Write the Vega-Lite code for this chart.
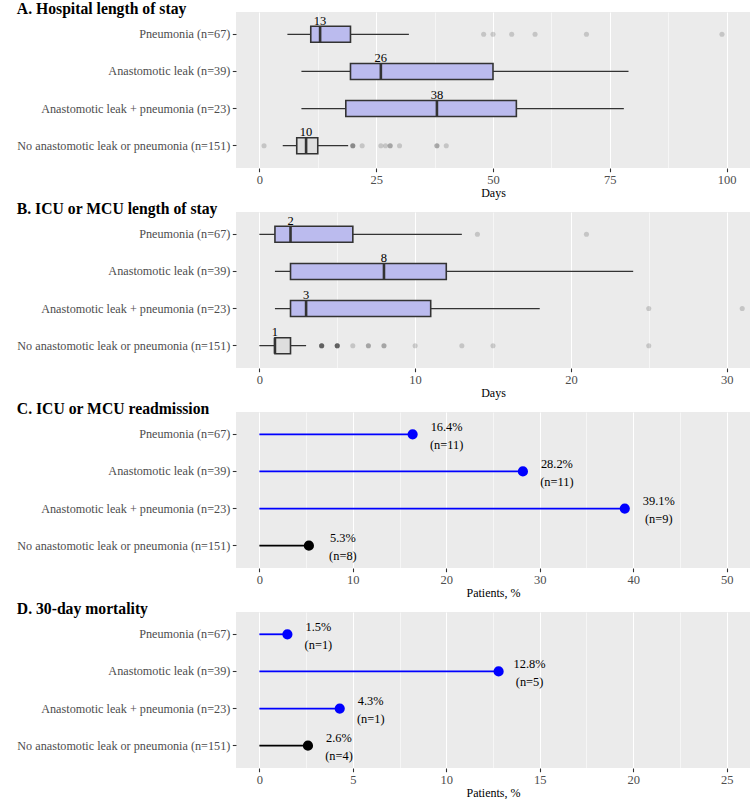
{
  "$schema": "https://vega.github.io/schema/vega-lite/v6.json",
  "padding": {"left": 16, "top": 1, "right": 0, "bottom": 0},
  "spacing": 2,
  "config": {
    "font": "Liberation Serif",
    "view": {"fill": "#EBEBEB", "stroke": null},
    "axis": {"domain": false, "tickColor": "#333333", "tickSize": 3.7, "tickWidth": 1.1, "labelColor": "#4D4D4D", "labelFont": "Liberation Serif", "titleFont": "Liberation Serif", "titleFontWeight": "normal", "titleColor": "#000000", "titleFontSize": 12, "labelLimit": 0},
    "axisY": {"grid": false, "labelPadding": 2.5, "labelFontSize": 12.2},
    "axisX": {"gridColor": "#FFFFFF", "labelPadding": 2, "titlePadding": 1, "labelFontSize": 12.5},
    "title": {"anchor": "start", "fontSize": 15.7, "fontWeight": "bold", "color": "#000000", "font": "Liberation Serif", "baseline": "alphabetic", "offset": -6}
  },
  "datasets": {
    "boxA": [
      {"group": "Pneumonia (n=67)", "lo": 6, "q1": 11, "med": 13, "q3": 19.5, "hi": 32},
      {"group": "Anastomotic leak (n=39)", "lo": 9, "q1": 19.5, "med": 26, "q3": 50, "hi": 79},
      {"group": "Anastomotic leak + pneumonia (n=23)", "lo": 9, "q1": 18.5, "med": 38, "q3": 55, "hi": 78},
      {"group": "No anastomotic leak or pneumonia (n=151)", "lo": 5, "q1": 8, "med": 10, "q3": 12.5, "hi": 19}
    ],
    "outA": [
      {"group": "Pneumonia (n=67)", "value": 48},
      {"group": "Pneumonia (n=67)", "value": 50},
      {"group": "Pneumonia (n=67)", "value": 54},
      {"group": "Pneumonia (n=67)", "value": 59},
      {"group": "Pneumonia (n=67)", "value": 70},
      {"group": "Pneumonia (n=67)", "value": 99},
      {"group": "No anastomotic leak or pneumonia (n=151)", "value": 1},
      {"group": "No anastomotic leak or pneumonia (n=151)", "value": 20},
      {"group": "No anastomotic leak or pneumonia (n=151)", "value": 20},
      {"group": "No anastomotic leak or pneumonia (n=151)", "value": 20},
      {"group": "No anastomotic leak or pneumonia (n=151)", "value": 22},
      {"group": "No anastomotic leak or pneumonia (n=151)", "value": 26},
      {"group": "No anastomotic leak or pneumonia (n=151)", "value": 27},
      {"group": "No anastomotic leak or pneumonia (n=151)", "value": 28},
      {"group": "No anastomotic leak or pneumonia (n=151)", "value": 28},
      {"group": "No anastomotic leak or pneumonia (n=151)", "value": 30},
      {"group": "No anastomotic leak or pneumonia (n=151)", "value": 38},
      {"group": "No anastomotic leak or pneumonia (n=151)", "value": 38},
      {"group": "No anastomotic leak or pneumonia (n=151)", "value": 40}
    ],
    "boxB": [
      {"group": "Pneumonia (n=67)", "lo": 0, "q1": 1, "med": 2, "q3": 6, "hi": 13},
      {"group": "Anastomotic leak (n=39)", "lo": 1, "q1": 2, "med": 8, "q3": 12, "hi": 24},
      {"group": "Anastomotic leak + pneumonia (n=23)", "lo": 1, "q1": 2, "med": 3, "q3": 11, "hi": 18},
      {"group": "No anastomotic leak or pneumonia (n=151)", "lo": 0, "q1": 1, "med": 1, "q3": 2, "hi": 3}
    ],
    "outB": [
      {"group": "Pneumonia (n=67)", "value": 14},
      {"group": "Pneumonia (n=67)", "value": 21},
      {"group": "Anastomotic leak + pneumonia (n=23)", "value": 25},
      {"group": "Anastomotic leak + pneumonia (n=23)", "value": 31},
      {"group": "No anastomotic leak or pneumonia (n=151)", "value": 4},
      {"group": "No anastomotic leak or pneumonia (n=151)", "value": 4},
      {"group": "No anastomotic leak or pneumonia (n=151)", "value": 4},
      {"group": "No anastomotic leak or pneumonia (n=151)", "value": 4},
      {"group": "No anastomotic leak or pneumonia (n=151)", "value": 4},
      {"group": "No anastomotic leak or pneumonia (n=151)", "value": 5},
      {"group": "No anastomotic leak or pneumonia (n=151)", "value": 5},
      {"group": "No anastomotic leak or pneumonia (n=151)", "value": 5},
      {"group": "No anastomotic leak or pneumonia (n=151)", "value": 5},
      {"group": "No anastomotic leak or pneumonia (n=151)", "value": 5},
      {"group": "No anastomotic leak or pneumonia (n=151)", "value": 6},
      {"group": "No anastomotic leak or pneumonia (n=151)", "value": 7},
      {"group": "No anastomotic leak or pneumonia (n=151)", "value": 7},
      {"group": "No anastomotic leak or pneumonia (n=151)", "value": 8},
      {"group": "No anastomotic leak or pneumonia (n=151)", "value": 8},
      {"group": "No anastomotic leak or pneumonia (n=151)", "value": 10},
      {"group": "No anastomotic leak or pneumonia (n=151)", "value": 13},
      {"group": "No anastomotic leak or pneumonia (n=151)", "value": 15},
      {"group": "No anastomotic leak or pneumonia (n=151)", "value": 25}
    ],
    "readm": [
      {"group": "Pneumonia (n=67)", "pct": 16.4, "pctLabel": "16.4%", "nLabel": "(n=11)"},
      {"group": "Anastomotic leak (n=39)", "pct": 28.2, "pctLabel": "28.2%", "nLabel": "(n=11)"},
      {"group": "Anastomotic leak + pneumonia (n=23)", "pct": 39.1, "pctLabel": "39.1%", "nLabel": "(n=9)"},
      {"group": "No anastomotic leak or pneumonia (n=151)", "pct": 5.3, "pctLabel": "5.3%", "nLabel": "(n=8)"}
    ],
    "mort": [
      {"group": "Pneumonia (n=67)", "pct": 1.5, "pctLabel": "1.5%", "nLabel": "(n=1)"},
      {"group": "Anastomotic leak (n=39)", "pct": 12.8, "pctLabel": "12.8%", "nLabel": "(n=5)"},
      {"group": "Anastomotic leak + pneumonia (n=23)", "pct": 4.3, "pctLabel": "4.3%", "nLabel": "(n=1)"},
      {"group": "No anastomotic leak or pneumonia (n=151)", "pct": 2.6, "pctLabel": "2.6%", "nLabel": "(n=4)"}
    ]
  },
  "vconcat": [
    {
      "title": "A. Hospital length of stay",
      "width": 514, "height": 156,
      "encoding": {
        "y": {"field": "group", "type": "nominal", "sort": ["Pneumonia (n=67)", "Anastomotic leak (n=39)", "Anastomotic leak + pneumonia (n=23)", "No anastomotic leak or pneumonia (n=151)"], "scale": {"paddingInner": 0, "paddingOuter": 0.1}, "axis": {"title": null}}
      },
      "layer": [
        {
          "data": {"name": "boxA"},
          "mark": {"type": "rule", "color": "#333333", "strokeWidth": 1.3},
          "encoding": {
            "x": {"field": "lo", "type": "quantitative", "scale": {"domain": [-5, 105], "nice": false, "zero": false},
              "axis": {"title": "Days", "values": [0, 12.5, 25, 37.5, 50, 62.5, 75, 87.5, 100], "labelExpr": "datum.value % 25 === 0 ? datum.label : ''",
                "gridWidth": {"condition": {"test": "datum.value % 25 !== 0", "value": 0.55}, "value": 1.1},
                "tickOpacity": {"condition": {"test": "datum.value % 25 !== 0", "value": 0}, "value": 1}}},
            "x2": {"field": "hi"}
          }
        },
        {
          "data": {"name": "outA"},
          "mark": {"type": "circle", "size": 26, "color": "#000000", "opacity": 0.16},
          "encoding": {"x": {"field": "value", "type": "quantitative", "scale": {"domain": [-5, 105], "nice": false, "zero": false},
              "axis": {"title": "Days", "values": [0, 12.5, 25, 37.5, 50, 62.5, 75, 87.5, 100], "labelExpr": "datum.value % 25 === 0 ? datum.label : ''",
                "gridWidth": {"condition": {"test": "datum.value % 25 !== 0", "value": 0.55}, "value": 1.1},
                "tickOpacity": {"condition": {"test": "datum.value % 25 !== 0", "value": 0}, "value": 1}}}}
        },
        {
          "data": {"name": "boxA"},
          "mark": {"type": "bar", "size": 16, "stroke": "#333333", "strokeWidth": 1.6},
          "encoding": {
            "x": {"field": "q1", "type": "quantitative", "scale": {"domain": [-5, 105], "nice": false, "zero": false},
              "axis": {"title": "Days", "values": [0, 12.5, 25, 37.5, 50, 62.5, 75, 87.5, 100], "labelExpr": "datum.value % 25 === 0 ? datum.label : ''",
                "gridWidth": {"condition": {"test": "datum.value % 25 !== 0", "value": 0.55}, "value": 1.1},
                "tickOpacity": {"condition": {"test": "datum.value % 25 !== 0", "value": 0}, "value": 1}}},
            "x2": {"field": "q3"},
            "fill": {"condition": {"test": "datum.group === 'No anastomotic leak or pneumonia (n=151)'", "value": "#DEDEDE"}, "value": "#BBBBEE"}
          }
        },
        {
          "data": {"name": "boxA"},
          "mark": {"type": "tick", "orient": "vertical", "size": 16, "thickness": 2.6, "color": "#333333", "opacity": 1},
          "encoding": {"x": {"field": "med", "type": "quantitative", "scale": {"domain": [-5, 105], "nice": false, "zero": false},
              "axis": {"title": "Days", "values": [0, 12.5, 25, 37.5, 50, 62.5, 75, 87.5, 100], "labelExpr": "datum.value % 25 === 0 ? datum.label : ''",
                "gridWidth": {"condition": {"test": "datum.value % 25 !== 0", "value": 0.55}, "value": 1.1},
                "tickOpacity": {"condition": {"test": "datum.value % 25 !== 0", "value": 0}, "value": 1}}}}
        },
        {
          "data": {"name": "boxA"},
          "mark": {"type": "text", "fontSize": 12.5, "color": "#000000", "baseline": "alphabetic", "align": "center", "dy": -9.5},
          "encoding": {"x": {"field": "med", "type": "quantitative", "scale": {"domain": [-5, 105], "nice": false, "zero": false},
              "axis": {"title": "Days", "values": [0, 12.5, 25, 37.5, 50, 62.5, 75, 87.5, 100], "labelExpr": "datum.value % 25 === 0 ? datum.label : ''",
                "gridWidth": {"condition": {"test": "datum.value % 25 !== 0", "value": 0.55}, "value": 1.1},
                "tickOpacity": {"condition": {"test": "datum.value % 25 !== 0", "value": 0}, "value": 1}}}, "text": {"field": "med"}}
        }
      ]
    },
    {
      "title": "B. ICU or MCU length of stay",
      "width": 514, "height": 156,
      "encoding": {
        "y": {"field": "group", "type": "nominal", "sort": ["Pneumonia (n=67)", "Anastomotic leak (n=39)", "Anastomotic leak + pneumonia (n=23)", "No anastomotic leak or pneumonia (n=151)"], "scale": {"paddingInner": 0, "paddingOuter": 0.1}, "axis": {"title": null}}
      },
      "layer": [
        {
          "data": {"name": "boxB"},
          "mark": {"type": "rule", "color": "#333333", "strokeWidth": 1.3},
          "encoding": {
            "x": {"field": "lo", "type": "quantitative", "scale": {"domain": [-1.5, 31.5], "nice": false, "zero": false},
              "axis": {"title": "Days", "values": [0, 5, 10, 15, 20, 25, 30], "labelExpr": "datum.value % 10 === 0 ? datum.label : ''",
                "gridWidth": {"condition": {"test": "datum.value % 10 !== 0", "value": 0.55}, "value": 1.1},
                "tickOpacity": {"condition": {"test": "datum.value % 10 !== 0", "value": 0}, "value": 1}}},
            "x2": {"field": "hi"}
          }
        },
        {
          "data": {"name": "outB"},
          "mark": {"type": "circle", "size": 26, "color": "#000000", "opacity": 0.16},
          "encoding": {"x": {"field": "value", "type": "quantitative", "scale": {"domain": [-1.5, 31.5], "nice": false, "zero": false},
              "axis": {"title": "Days", "values": [0, 5, 10, 15, 20, 25, 30], "labelExpr": "datum.value % 10 === 0 ? datum.label : ''",
                "gridWidth": {"condition": {"test": "datum.value % 10 !== 0", "value": 0.55}, "value": 1.1},
                "tickOpacity": {"condition": {"test": "datum.value % 10 !== 0", "value": 0}, "value": 1}}}}
        },
        {
          "data": {"name": "boxB"},
          "mark": {"type": "bar", "size": 16, "stroke": "#333333", "strokeWidth": 1.6},
          "encoding": {
            "x": {"field": "q1", "type": "quantitative", "scale": {"domain": [-1.5, 31.5], "nice": false, "zero": false},
              "axis": {"title": "Days", "values": [0, 5, 10, 15, 20, 25, 30], "labelExpr": "datum.value % 10 === 0 ? datum.label : ''",
                "gridWidth": {"condition": {"test": "datum.value % 10 !== 0", "value": 0.55}, "value": 1.1},
                "tickOpacity": {"condition": {"test": "datum.value % 10 !== 0", "value": 0}, "value": 1}}},
            "x2": {"field": "q3"},
            "fill": {"condition": {"test": "datum.group === 'No anastomotic leak or pneumonia (n=151)'", "value": "#DEDEDE"}, "value": "#BBBBEE"}
          }
        },
        {
          "data": {"name": "boxB"},
          "mark": {"type": "tick", "orient": "vertical", "size": 16, "thickness": 2.6, "color": "#333333", "opacity": 1},
          "encoding": {"x": {"field": "med", "type": "quantitative", "scale": {"domain": [-1.5, 31.5], "nice": false, "zero": false},
              "axis": {"title": "Days", "values": [0, 5, 10, 15, 20, 25, 30], "labelExpr": "datum.value % 10 === 0 ? datum.label : ''",
                "gridWidth": {"condition": {"test": "datum.value % 10 !== 0", "value": 0.55}, "value": 1.1},
                "tickOpacity": {"condition": {"test": "datum.value % 10 !== 0", "value": 0}, "value": 1}}}}
        },
        {
          "data": {"name": "boxB"},
          "mark": {"type": "text", "fontSize": 12.5, "color": "#000000", "baseline": "alphabetic", "align": "center", "dy": -9.5},
          "encoding": {"x": {"field": "med", "type": "quantitative", "scale": {"domain": [-1.5, 31.5], "nice": false, "zero": false},
              "axis": {"title": "Days", "values": [0, 5, 10, 15, 20, 25, 30], "labelExpr": "datum.value % 10 === 0 ? datum.label : ''",
                "gridWidth": {"condition": {"test": "datum.value % 10 !== 0", "value": 0.55}, "value": 1.1},
                "tickOpacity": {"condition": {"test": "datum.value % 10 !== 0", "value": 0}, "value": 1}}}, "text": {"field": "med"}}
        }
      ]
    },
    {
      "title": "C. ICU or MCU readmission",
      "width": 514, "height": 156,
      "data": {"name": "readm"},
      "encoding": {
        "y": {"field": "group", "type": "nominal", "sort": ["Pneumonia (n=67)", "Anastomotic leak (n=39)", "Anastomotic leak + pneumonia (n=23)", "No anastomotic leak or pneumonia (n=151)"], "scale": {"paddingInner": 0, "paddingOuter": 0.1}, "axis": {"title": null}},
        "x": {"field": "pct", "type": "quantitative", "scale": {"domain": [-2.5, 52.5], "nice": false, "zero": false},
          "axis": {"title": "Patients, %", "values": [0, 5, 10, 15, 20, 25, 30, 35, 40, 45, 50], "labelExpr": "datum.value % 10 === 0 ? datum.label : ''",
            "gridWidth": {"condition": {"test": "datum.value % 10 !== 0", "value": 0.55}, "value": 1.1},
            "tickOpacity": {"condition": {"test": "datum.value % 10 !== 0", "value": 0}, "value": 1}}},
        "color": {"condition": {"test": "datum.group === 'No anastomotic leak or pneumonia (n=151)'", "value": "#000000"}, "value": "#0000FF"}
      },
      "layer": [
        {
          "mark": {"type": "rule", "strokeWidth": 1.8},
          "encoding": {"x2": {"datum": 0}}
        },
        {
          "mark": {"type": "circle", "size": 104, "opacity": 1},
          "encoding": {}
        },
        {
          "mark": {"type": "text", "fontSize": 12.4, "align": "center", "baseline": "middle", "dx": 34, "dy": -7.5},
          "encoding": {"text": {"field": "pctLabel"}, "color": {"value": "#000000"}}
        },
        {
          "mark": {"type": "text", "fontSize": 12.4, "align": "center", "baseline": "middle", "dx": 34, "dy": 10.5},
          "encoding": {"text": {"field": "nLabel"}, "color": {"value": "#000000"}}
        }
      ]
    },
    {
      "title": "D. 30-day mortality",
      "width": 514, "height": 156,
      "data": {"name": "mort"},
      "encoding": {
        "y": {"field": "group", "type": "nominal", "sort": ["Pneumonia (n=67)", "Anastomotic leak (n=39)", "Anastomotic leak + pneumonia (n=23)", "No anastomotic leak or pneumonia (n=151)"], "scale": {"paddingInner": 0, "paddingOuter": 0.1}, "axis": {"title": null}},
        "x": {"field": "pct", "type": "quantitative", "scale": {"domain": [-1.25, 26.25], "nice": false, "zero": false},
          "axis": {"title": "Patients, %", "values": [0, 2.5, 5, 7.5, 10, 12.5, 15, 17.5, 20, 22.5, 25], "labelExpr": "datum.value % 5 === 0 ? datum.label : ''",
            "gridWidth": {"condition": {"test": "datum.value % 5 !== 0", "value": 0.55}, "value": 1.1},
            "tickOpacity": {"condition": {"test": "datum.value % 5 !== 0", "value": 0}, "value": 1}}},
        "color": {"condition": {"test": "datum.group === 'No anastomotic leak or pneumonia (n=151)'", "value": "#000000"}, "value": "#0000FF"}
      },
      "layer": [
        {
          "mark": {"type": "rule", "strokeWidth": 1.8},
          "encoding": {"x2": {"datum": 0}}
        },
        {
          "mark": {"type": "circle", "size": 104, "opacity": 1},
          "encoding": {}
        },
        {
          "mark": {"type": "text", "fontSize": 12.4, "align": "center", "baseline": "middle", "dx": 31, "dy": -7.5},
          "encoding": {"text": {"field": "pctLabel"}, "color": {"value": "#000000"}}
        },
        {
          "mark": {"type": "text", "fontSize": 12.4, "align": "center", "baseline": "middle", "dx": 31, "dy": 10.5},
          "encoding": {"text": {"field": "nLabel"}, "color": {"value": "#000000"}}
        }
      ]
    }
  ]
}
